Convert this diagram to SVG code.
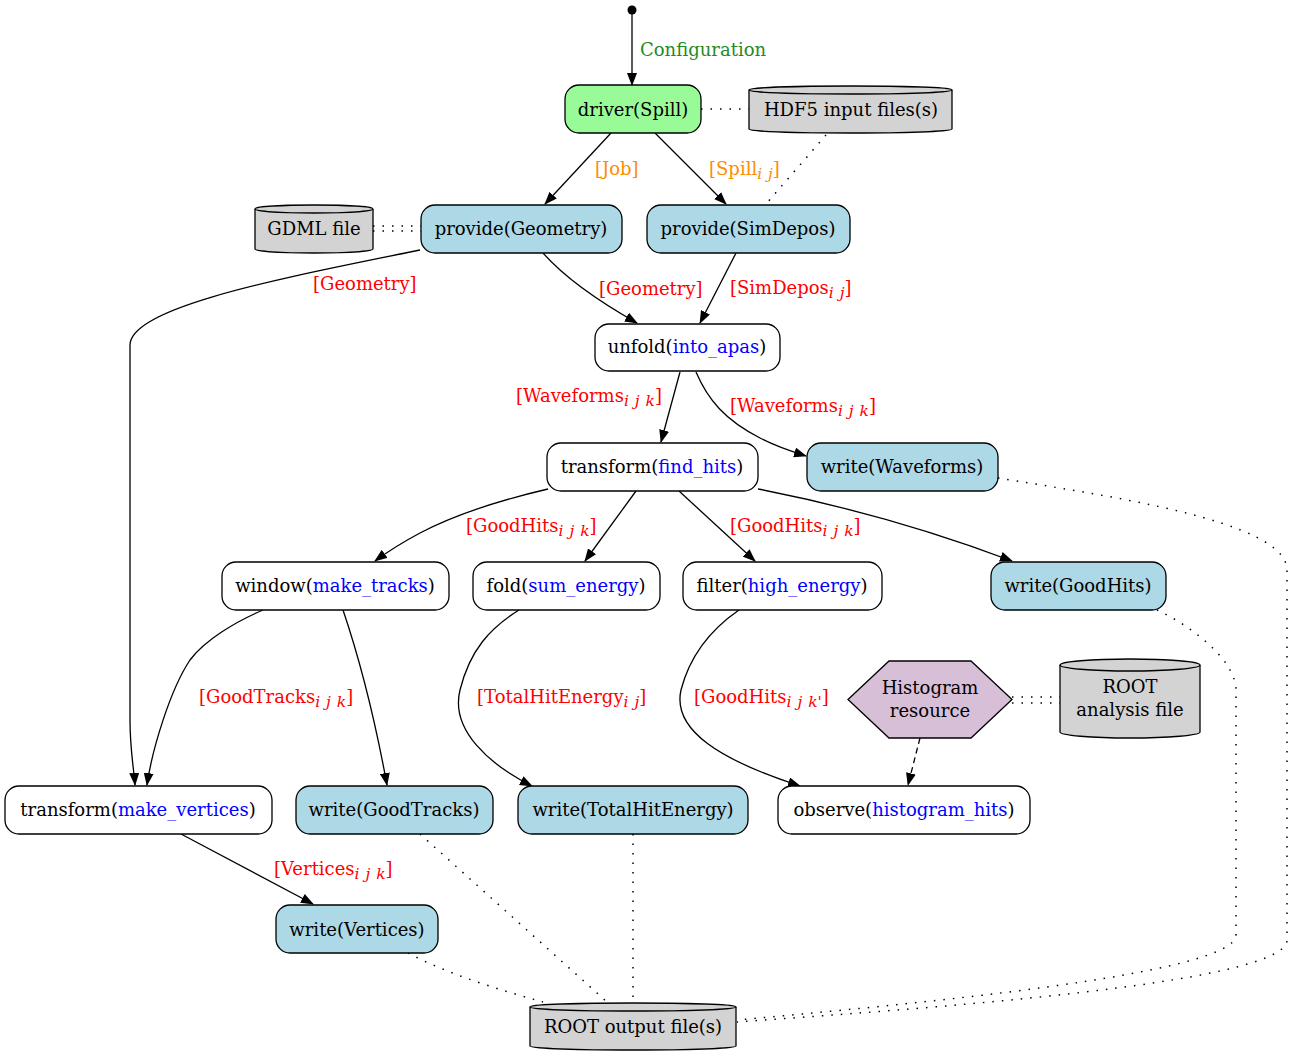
<svg xmlns="http://www.w3.org/2000/svg" width="1292" height="1056" viewBox="0 0 1292 1056">
<style>
text{font-family:"DejaVu Serif","Liberation Serif",serif;font-size:18px;fill:#000}
.c{text-anchor:middle}
.fn{fill:#0000ff}
.lbl{fill:#ff0000}
.org{fill:#ff8c00}
.grn{fill:#228b22}
.sub{font-style:italic;font-size:15.5px;word-spacing:1px}
.node{stroke:#000;stroke-width:1.3}
.w{fill:#fff}
.b{fill:#add8e6}
.g{fill:#98fb98}
.gray{fill:#d3d3d3}
.hex{fill:#d8bfd8}
.e{fill:none;stroke:#000;stroke-width:1.3}
.arr{marker-end:url(#ah)}
.dot{fill:none;stroke:#000;stroke-width:1.5;stroke-dasharray:1.5 8}
.dash{stroke-dasharray:6 4}
</style>
<defs>
<marker id="ah" viewBox="0 0 13 10" refX="12" refY="5" markerWidth="13" markerHeight="10" markerUnits="userSpaceOnUse" orient="auto">
<path d="M0,0 L13,5 L0,10 Z" fill="#000"/>
</marker>
</defs>

<g id="connectors">
<circle cx="632" cy="10" r="4.5" fill="#000"/>
<path class="e arr" d="M632,14 L632,85"/>
<path class="e arr" d="M611,133 L545,204"/>
<path class="e arr" d="M655,133 L726,204"/>
<path class="e arr" d="M543,253 C565,278 600,302 637,323"/>
<path class="e arr" d="M736,253 L700,323"/>
<path class="e arr" d="M420,250 C300,275 130,305 130,345 L130,720 C130,750 134,770 135,785"/>
<path class="e arr" d="M680,372 L661,442"/>
<path class="e arr" d="M696,372 C708,400 725,420 760,438 C775,446 790,451 806,456"/>
<path class="e arr" d="M548,489 C505,499 460,512 420,533 C405,541 390,550 375,561"/>
<path class="e arr" d="M636,491 L585,561"/>
<path class="e arr" d="M679,491 L755,561"/>
<path class="e arr" d="M758,489 C840,505 930,530 1012,561"/>
<path class="e arr" d="M263,610 C235,622 205,640 190,660 C170,690 152,750 147,785"/>
<path class="e arr" d="M343,610 C360,660 375,720 387,785"/>
<path class="e arr" d="M519,610 C490,628 470,650 460,690 C450,730 490,765 532,786"/>
<path class="e arr" d="M739,610 C710,630 690,655 681,690 C672,730 720,760 800,786"/>
<path class="e arr dash" d="M920,738 L908,785"/>
<path class="e arr" d="M181,834 L313,904"/>
<path class="dot" d="M701,109 L749,109"/>
<path class="dot" d="M826,135 L766,204"/>
<path class="dot" d="M373,226 L421,226"/>
<path class="dot" d="M373,231 L421,231"/>
<path class="dot" d="M1012,697 L1060,697"/>
<path class="dot" d="M1012,703 L1060,703"/>
<path class="dot" d="M408,953 C450,975 500,990 543,1002"/>
<path class="dot" d="M420,834 L607,1002"/>
<path class="dot" d="M633,834 L633,1002"/>
<path class="dot" d="M1157,610 C1190,625 1236,660 1236,690 L1236,935 C1236,975 900,1005 737,1020"/>
<path class="dot" d="M998,478 C1100,495 1287,520 1287,570 L1287,940 C1287,985 900,1010 737,1022"/>

<text class="grn" x="640" y="56">Configuration</text>
<text class="org" x="595" y="175">[Job]</text>
<text class="org" x="709" y="175">[Spill<tspan class="sub" dy="4">i j</tspan><tspan dy="-4">]</tspan></text>
<text class="lbl" x="599" y="295">[Geometry]</text>
<text class="lbl" x="730" y="294">[SimDepos<tspan class="sub" dy="4">i j</tspan><tspan dy="-4">]</tspan></text>
<text class="lbl" x="313" y="290">[Geometry]</text>
<text class="lbl" x="516" y="402">[Waveforms<tspan class="sub" dy="4">i j k</tspan><tspan dy="-4">]</tspan></text>
<text class="lbl" x="730" y="412">[Waveforms<tspan class="sub" dy="4">i j k</tspan><tspan dy="-4">]</tspan></text>
<text class="lbl" x="466" y="532">[GoodHits<tspan class="sub" dy="4">i j k</tspan><tspan dy="-4">]</tspan></text>
<text class="lbl" x="730" y="532">[GoodHits<tspan class="sub" dy="4">i j k</tspan><tspan dy="-4">]</tspan></text>
<text class="lbl" x="199" y="703">[GoodTracks<tspan class="sub" dy="4">i j k</tspan><tspan dy="-4">]</tspan></text>
<text class="lbl" x="477" y="703">[TotalHitEnergy<tspan class="sub" dy="4">i j</tspan><tspan dy="-4">]</tspan></text>
<text class="lbl" x="694" y="703">[GoodHits<tspan class="sub" dy="4">i j k'</tspan><tspan dy="-4">]</tspan></text>
<text class="lbl" x="274" y="875">[Vertices<tspan class="sub" dy="4">i j k</tspan><tspan dy="-4">]</tspan></text>
</g>

<g id="driver"><rect class="node g" x="565" y="85" width="136" height="48" rx="14"/><text class="c" x="633" y="116">driver(Spill)</text></g>
<g id="hdf5"><path class="node gray" d="M749,90 L749,129 A101.5,4 0 0 0 952,129 L952,90 A101.5,4 0 0 0 749,90 Z"/><path class="e" d="M749,90 A101.5,4 0 0 0 952,90"/><text class="c" x="851" y="116">HDF5 input files(s)</text></g>
<g id="gdml"><path class="node gray" d="M255,209 L255,249 A59,4 0 0 0 373,249 L373,209 A59,4 0 0 0 255,209 Z"/><path class="e" d="M255,209 A59,4 0 0 0 373,209"/><text class="c" x="314" y="235">GDML file</text></g>
<g id="provide_geometry"><rect class="node b" x="421" y="205" width="201" height="48" rx="14"/><text class="c" x="521" y="235">provide(Geometry)</text></g>
<g id="provide_simdepos"><rect class="node b" x="647" y="205" width="203" height="48" rx="14"/><text class="c" x="748" y="235">provide(SimDepos)</text></g>
<g id="unfold"><rect class="node w" x="595" y="324" width="185" height="47" rx="14"/><text class="c" x="687" y="353">unfold(<tspan class="fn">into_apas</tspan>)</text></g>
<g id="find_hits"><rect class="node w" x="547" y="443" width="211" height="48" rx="14"/><text class="c" x="652" y="473">transform(<tspan class="fn">find_hits</tspan>)</text></g>
<g id="write_waveforms"><rect class="node b" x="807" y="443" width="191" height="48" rx="14"/><text class="c" x="902" y="473">write(Waveforms)</text></g>
<g id="window"><rect class="node w" x="222" y="562" width="227" height="48" rx="14"/><text class="c" x="335" y="592">window(<tspan class="fn">make_tracks</tspan>)</text></g>
<g id="fold"><rect class="node w" x="473" y="562" width="187" height="48" rx="14"/><text class="c" x="566" y="592">fold(<tspan class="fn">sum_energy</tspan>)</text></g>
<g id="filter"><rect class="node w" x="683" y="562" width="199" height="48" rx="14"/><text class="c" x="782" y="592">filter(<tspan class="fn">high_energy</tspan>)</text></g>
<g id="write_goodhits"><rect class="node b" x="991" y="562" width="175" height="48" rx="14"/><text class="c" x="1078" y="592">write(GoodHits)</text></g>
<g id="histogram"><polygon class="node hex" points="848,699.5 889,661 971,661 1012,699.5 971,738 889,738"/><text class="c" x="930" y="694">Histogram</text><text class="c" x="930" y="717">resource</text></g>
<g id="root_analysis"><path class="node gray" d="M1060,665 L1060,732 A70,6 0 0 0 1200,732 L1200,665 A70,6 0 0 0 1060,665 Z"/><path class="e" d="M1060,665 A70,6 0 0 0 1200,665"/><text class="c" x="1130" y="693">ROOT</text><text class="c" x="1130" y="716">analysis file</text></g>
<g id="make_vertices"><rect class="node w" x="5" y="786" width="267" height="48" rx="14"/><text class="c" x="138" y="816">transform(<tspan class="fn">make_vertices</tspan>)</text></g>
<g id="write_goodtracks"><rect class="node b" x="296" y="786" width="197" height="48" rx="14"/><text class="c" x="394" y="816">write(GoodTracks)</text></g>
<g id="write_totalhitenergy"><rect class="node b" x="518" y="786" width="230" height="48" rx="14"/><text class="c" x="633" y="816">write(TotalHitEnergy)</text></g>
<g id="observe"><rect class="node w" x="778" y="786" width="252" height="48" rx="14"/><text class="c" x="904" y="816">observe(<tspan class="fn">histogram_hits</tspan>)</text></g>
<g id="write_vertices"><rect class="node b" x="276" y="905" width="162" height="48" rx="14"/><text class="c" x="357" y="936">write(Vertices)</text></g>
<g id="root_output"><path class="node gray" d="M530,1007 L530,1046 A103,4 0 0 0 736,1046 L736,1007 A103,4 0 0 0 530,1007 Z"/><path class="e" d="M530,1007 A103,4 0 0 0 736,1007"/><text class="c" x="633" y="1033">ROOT output file(s)</text></g>
</svg>
